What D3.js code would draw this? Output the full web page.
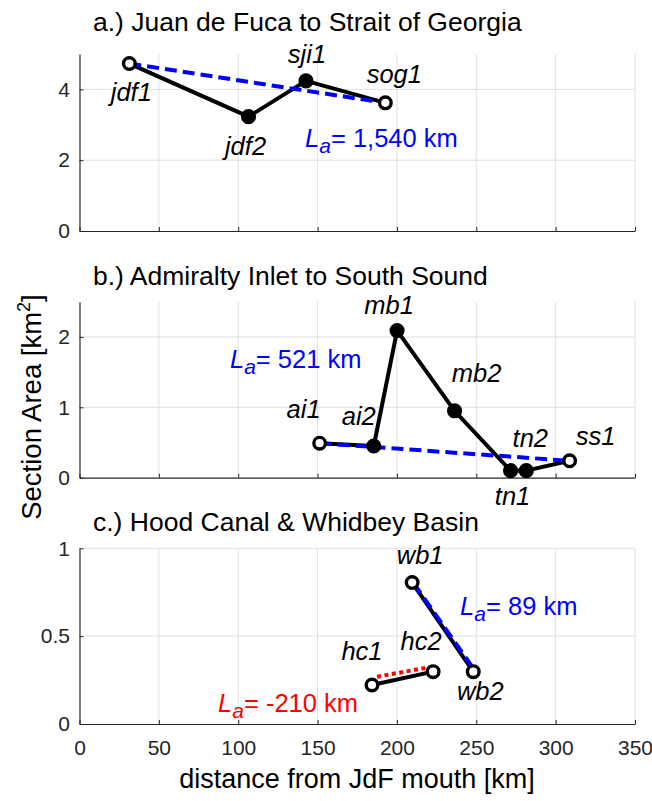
<!DOCTYPE html>
<html>
<head>
<meta charset="utf-8">
<script src="https://cdn.jsdelivr.net/npm/d3@7"></script>
<style>
  body { margin: 0; background: #fff; }
  text { font-family: "Liberation Sans", Arial, Helvetica, sans-serif; }
</style>
</head>
<body>
<script>
// ---------------- DATA ----------------
const xTicks = [0, 50, 100, 150, 200, 250, 300, 350];

// Panel a
const stationsA = ["jdf1", "jdf2", "sji1", "sog1"];
const distA = [31.4, 106.5, 142.7, 192.7];
const areaA = [4.73, 3.23, 4.24, 3.62];
const fitDistA = [31.4, 192.7];
const fitAreaA = [4.73, 3.62];
const laA = "1,540";
const yTicksA = [0, 2, 4];

// Panel b
const stationsB = ["ai1", "ai2", "mb1", "mb2", "tn1", "tn2", "ss1"];
const distB = [151.3, 185.4, 200.1, 236.3, 271.6, 281.5, 308.8];
const areaB = [0.49, 0.45, 2.09, 0.95, 0.10, 0.10, 0.24];
const fitDistB = [151.3, 308.8];
const fitAreaB = [0.49, 0.24];
const laB = "521";
const yTicksB = [0, 1, 2];

// Panel c
const stationsHC = ["hc1", "hc2"];
const distHC = [184.3, 222.8];
const areaHC = [0.222, 0.298];
const fitDistHC = [187.5, 222.2];
const fitAreaHC = [0.269, 0.326];
const laHC = "-210";
const stationsWB = ["wb1", "wb2"];
const distWB = [209.6, 248.1];
const areaWB = [0.805, 0.298];
const fitDistWB = [210.6, 248.6];
const fitAreaWB = [0.80, 0.31];
const laWB = "89";
const yTicksC = [0, 0.5, 1];

const titles = ["a.) Juan de Fuca to Strait of Georgia",
                "b.) Admiralty Inlet to South Sound",
                "c.) Hood Canal & Whidbey Basin"];

// ---------------- LAYOUT ----------------
const W = 652, H = 801;
const svg = d3.select("body").append("svg").attr("width", W).attr("height", H);
svg.append("rect").attr("width", W).attr("height", H).attr("fill", "#fff");

const x = d3.scaleLinear().domain([0, 350]).range([79.5, 635]);
const AX = "#262626", GRID = "#e0e0e0";
const BLUE = "#0000ff", RED = "#ff0000";

// label offsets (pixels from point: center x, baseline y)
const off = {
  jdf1: [2, 37], jdf2: [-3, 38], sji1: [1, -18], sog1: [9, -20],
  ai1: [-16, -25], ai2: [-15, -21], mb1: [-8, -17], mb2: [22, -29],
  tn1: [2, 34], tn2: [4, -24], ss1: [26, -16],
  hc1: [-10, -25], hc2: [-12, -22], wb1: [8, -19], wb2: [7, 28]
};

const panels = [
  { top: 54, bottom: 231, ymax: 5, yTicks: yTicksA, titleY: 30.5, fmt: d3.format("d"),
    series: [{ names: stationsA, xs: distA, ys: areaA }],
    fits: [{ xs: fitDistA, ys: fitAreaA, color: BLUE, dash: "12,6" }],
    las: [{ v: laA, color: BLUE, at: [142.1, 2.37] }] },
  { top: 301.7, bottom: 477.7, ymax: 2.5, yTicks: yTicksB, titleY: 285, fmt: d3.format("d"),
    series: [{ names: stationsB, xs: distB, ys: areaB }],
    fits: [{ xs: fitDistB, ys: fitAreaB, color: BLUE, dash: "12,6" }],
    las: [{ v: laB, color: BLUE, at: [94.8, 1.556] }] },
  { top: 548.3, bottom: 724, ymax: 1, yTicks: yTicksC, titleY: 531, fmt: d => d === 0.5 ? "0.5" : d3.format("d")(d),
    series: [{ names: stationsHC, xs: distHC, ys: areaHC }, { names: stationsWB, xs: distWB, ys: areaWB }],
    fits: [{ xs: fitDistHC, ys: fitAreaHC, color: RED, dash: "4,3.5" },
           { xs: fitDistWB, ys: fitAreaWB, color: BLUE, dash: "12,6" }],
    las: [{ v: laHC, color: RED, at: [87.3, 0.068] }, { v: laWB, color: BLUE, at: [239.8, 0.62] }] }
];

panels.forEach((p, pi) => {
  const y = d3.scaleLinear().domain([0, p.ymax]).range([p.bottom, p.top]);
  const g = svg.append("g");

  // grid
  g.selectAll(".vg").data(xTicks.filter(d => d > 0)).join("line")
    .attr("x1", d => x(d)).attr("x2", d => x(d))
    .attr("y1", p.bottom).attr("y2", p.top)
    .attr("stroke", GRID).attr("stroke-width", 1);
  g.selectAll(".hg").data(p.yTicks.filter(d => d > 0)).join("line")
    .attr("x1", x(0)).attr("x2", x(350))
    .attr("y1", d => y(d)).attr("y2", d => y(d))
    .attr("stroke", GRID).attr("stroke-width", 1);

  // axes
  const xa = g.append("g").attr("transform", `translate(0,${p.bottom})`)
    .call(d3.axisBottom(x).tickValues(xTicks).tickSize(-4).tickSizeOuter(0).tickPadding(16)
      .tickFormat(pi === 2 ? d3.format("d") : () => ""));
  const ya = g.append("g").attr("transform", `translate(${x(0)},0)`)
    .call(d3.axisLeft(y).tickValues(p.yTicks).tickSize(-4).tickSizeOuter(0).tickPadding(9.5)
      .tickFormat(p.fmt));
  [xa, ya].forEach(a => {
    a.select(".domain").attr("stroke", AX).attr("stroke-width", 1.2);
    a.selectAll(".tick line").attr("stroke", AX).attr("stroke-width", 1);
    a.selectAll(".tick text").attr("fill", AX).style("font-size", "21px")
      .style("font-family", '"Liberation Sans", Arial, sans-serif');
  });

  // title
  g.append("text").attr("x", 93).attr("y", p.titleY).attr("fill", "#000")
    .style("font-size", "26.5px").text(titles[pi]);

  const line = d3.line().x(d => x(d[0])).y(d => y(d[1]));

  // black station lines
  p.series.forEach(s => {
    g.append("path").datum(s.xs.map((d, i) => [d, s.ys[i]]))
      .attr("d", line).attr("fill", "none").attr("stroke", "#000")
      .attr("stroke-width", 4).attr("stroke-linejoin", "round");
  });
  // fit lines
  p.fits.forEach(f => {
    g.append("path").datum(f.xs.map((d, i) => [d, f.ys[i]]))
      .attr("d", line).attr("fill", "none").attr("stroke", f.color)
      .attr("stroke-width", 4).attr("stroke-dasharray", f.dash);
  });
  // markers + labels
  p.series.forEach(s => {
    s.xs.forEach((d, i) => {
      const open = (i === 0 || i === s.xs.length - 1);
      g.append("circle").attr("cx", x(d)).attr("cy", y(s.ys[i])).attr("r", open ? 5.8 : 6.8)
        .attr("fill", open ? "#fff" : "#000").attr("stroke", "#000").attr("stroke-width", open ? 3.4 : 1.5);
      const o = off[s.names[i]];
      g.append("text").attr("x", x(d) + o[0]).attr("y", y(s.ys[i]) + o[1])
        .attr("text-anchor", "middle").style("font-size", "25.5px").style("font-style", "italic")
        .attr("fill", "#000").text(s.names[i]);
    });
  });
  // La annotations
  p.las.forEach(l => {
    const t = g.append("text").attr("x", x(l.at[0])).attr("y", y(l.at[1]))
      .attr("fill", l.color).style("font-size", "25.5px");
    t.append("tspan").style("font-style", "italic").text("L");
    t.append("tspan").style("font-style", "italic").style("font-size", "21px").attr("dy", 6).text("a");
    t.append("tspan").attr("dy", -6).text("= " + l.v + " km");
  });
});

// axis labels
svg.append("text").attr("x", 357).attr("y", 788).attr("text-anchor", "middle")
  .attr("fill", "#000").style("font-size", "27px").text("distance from JdF mouth [km]");
const yl = svg.append("text").attr("transform", "translate(41,407) rotate(-90)")
  .attr("text-anchor", "middle").attr("fill", "#000").style("font-size", "27.5px");
yl.append("tspan").text("Section Area [km");
yl.append("tspan").style("font-size", "18px").attr("dy", -11).text("2");
yl.append("tspan").attr("dy", 11).text("]");
</script>
</body>
</html>
